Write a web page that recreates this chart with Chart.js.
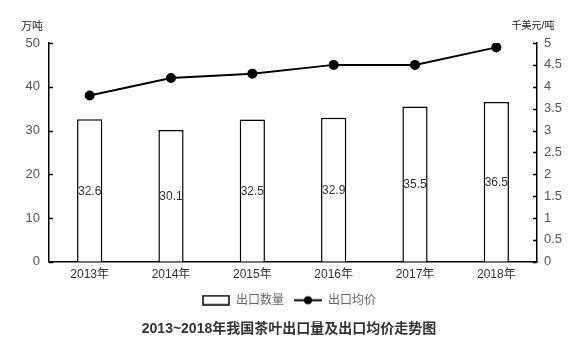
<!DOCTYPE html>
<html>
<head>
<meta charset="utf-8">
<script src="https://cdn.jsdelivr.net/npm/chart.js@4.4.0/dist/chart.umd.min.js"></script>
<style>
    html, body { margin: 0; padding: 0; background: #fff; }
    #wrap { width: 578px; height: 351px; }
</style>
</head>
<body>
<div id="wrap"><canvas id="teaChart" width="578" height="351"></canvas></div>
<script>
// 年份与两组数据
const years = ['2013年', '2014年', '2015年', '2016年', '2017年', '2018年'];
const exportVolume = [32.6, 30.1, 32.5, 32.9, 35.5, 36.5];   // 万吨
const exportPrice = [3.8, 4.2, 4.3, 4.5, 4.5, 4.9];          // 千美元/吨
const leftTicks = [0, 10, 20, 30, 40, 50];
const rightTicks = [0, 0.5, 1, 1.5, 2, 2.5, 3, 3.5, 4, 4.5, 5];

const FONT = "'Liberation Sans', Arial, 'Noto Sans CJK SC', sans-serif";

// 图例用小图标
function makeBoxIcon() {
    const c = document.createElement('canvas');
    c.width = 28; c.height = 11;
    const g = c.getContext('2d');
    g.fillStyle = '#fff';
    g.fillRect(0, 0, 28, 11);
    g.strokeStyle = '#000';
    g.lineWidth = 1.5;
    g.strokeRect(1, 1, 26, 9);
    return c;
}
function makeLineIcon() {
    const c = document.createElement('canvas');
    c.width = 28; c.height = 11;
    const g = c.getContext('2d');
    g.strokeStyle = '#000';
    g.lineWidth = 2;
    g.beginPath();
    g.moveTo(0, 5.5); g.lineTo(28, 5.5);
    g.stroke();
    g.fillStyle = '#000';
    g.beginPath();
    g.arc(14, 5.5, 4, 0, Math.PI * 2);
    g.fill();
    return c;
}

// 内向刻度线 + 单位 + 柱内数值
const extras = {
    id: 'extras',
    afterDatasetsDraw(chart) {
        const ctx = chart.ctx;
        const yl = chart.scales.y;
        const yr = chart.scales.y1;
        ctx.save();
        ctx.strokeStyle = '#000';
        ctx.lineWidth = 1.5;
        yl.ticks.forEach(t => {
            const py = Math.round(yl.getPixelForValue(t.value)) + 0.5;
            ctx.beginPath();
            ctx.moveTo(yl.right, py);
            ctx.lineTo(yl.right + 4, py);
            ctx.stroke();
        });
        yr.ticks.forEach(t => {
            const py = Math.round(yr.getPixelForValue(t.value)) + 0.5;
            ctx.beginPath();
            ctx.moveTo(yr.left, py);
            ctx.lineTo(yr.left - 4, py);
            ctx.stroke();
        });

        // 柱内数值（柱子是第二个数据集）
        const meta = chart.getDatasetMeta(1);
        ctx.fillStyle = '#333';
        ctx.font = '12px ' + FONT;
        ctx.textAlign = 'center';
        ctx.textBaseline = 'middle';
        meta.data.forEach((bar, i) => {
            const p = bar.getProps(['x', 'y', 'base'], true);
            ctx.fillText(exportVolume[i].toFixed(1), p.x, (p.y + p.base) / 2 + 1);
        });

        // 单位
        ctx.fillStyle = '#222';
        ctx.font = '11px ' + FONT;
        ctx.textAlign = 'center';
        ctx.fillText('万吨', 32, 27);
        ctx.font = '10px ' + FONT;
        ctx.fillText('千美元/吨', 533, 26);
        ctx.restore();
    }
};

new Chart(document.getElementById('teaChart'), {
    data: {
        labels: years,
        datasets: [
            {
                type: 'line',
                label: '出口均价',
                data: exportPrice,
                yAxisID: 'y1',
                borderColor: '#000',
                backgroundColor: '#000',
                borderWidth: 2,
                pointRadius: 4,
                pointBackgroundColor: '#000',
                tension: 0,
                order: 0
            },
            {
                type: 'bar',
                label: '出口数量',
                data: exportVolume,
                yAxisID: 'y',
                backgroundColor: '#fff',
                borderColor: '#000',
                borderWidth: 1.5,
                barPercentage: 0.31,
                categoryPercentage: 1,
                order: 1
            }
        ]
    },
    options: {
        responsive: false,
        animation: false,
        layout: {
            padding: { top: 43, left: 0, right: 0, bottom: 9 }
        },
        plugins: {
            legend: {
                position: 'bottom',
                labels: {
                    color: '#666',
                    font: { size: 12, family: FONT },
                    usePointStyle: true,
                    pointStyleWidth: 28,
                    boxHeight: 11,
                    padding: 10,
                    generateLabels(chart) {
                        return [
                            { text: '出口数量', pointStyle: makeBoxIcon(), fontColor: '#666', datasetIndex: 1, lineWidth: 0 },
                            { text: '出口均价', pointStyle: makeLineIcon(), fontColor: '#666', datasetIndex: 0, lineWidth: 0 }
                        ];
                    }
                }
            },
            title: {
                display: true,
                position: 'bottom',
                text: '2013~2018年我国茶叶出口量及出口均价走势图',
                color: '#333',
                font: { size: 14, weight: 'bold', family: FONT },
                padding: { top: 5, bottom: 4 }
            },
            tooltip: { enabled: false }
        },
        scales: {
            x: {
                grid: { display: false, drawTicks: false },
                border: { color: '#000', width: 1.5 },
                afterFit(scale) { scale.height -= 4; },
                ticks: {
                    color: '#333',
                    padding: 6,
                    font: { size: 12, family: FONT }
                }
            },
            y: {
                position: 'left',
                min: 0,
                max: 50,
                afterBuildTicks(scale) {
                    scale.ticks = leftTicks.map(v => ({ value: v }));
                },
                afterFit(scale) { scale.width = 49; },
                grid: { display: false, drawTicks: false },
                border: { color: '#000', width: 1.5 },
                ticks: {
                    color: '#555',
                    padding: 9,
                    font: { size: 13, family: FONT }
                }
            },
            y1: {
                position: 'right',
                min: 0,
                max: 5,
                afterBuildTicks(scale) {
                    scale.ticks = rightTicks.map(v => ({ value: v }));
                },
                afterFit(scale) { scale.width = 41; },
                grid: { display: false, drawTicks: false },
                border: { color: '#000', width: 1.5 },
                ticks: {
                    color: '#555',
                    padding: 7,
                    font: { size: 13, family: FONT },
                    callback: v => String(v)
                }
            }
        }
    },
    plugins: [extras]
});
</script>
</body>
</html>
